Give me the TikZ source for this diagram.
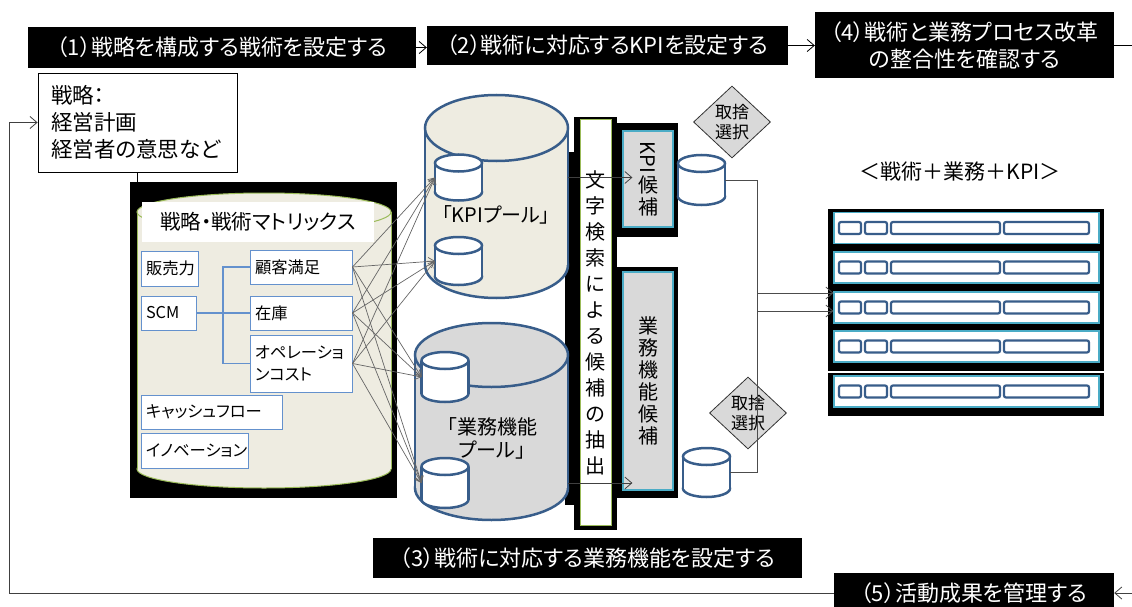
\documentclass[tikz,border=0pt]{standalone}
\usepackage{fontspec}
\setmainfont{Noto Sans CJK JP}[RawFeature=+palt]
\usepackage{graphicx}
\usetikzlibrary{shapes.geometric,arrows.meta}

\definecolor{poolblue}{RGB}{56,93,138}
\definecolor{beige}{RGB}{238,236,225}
\definecolor{lgray}{RGB}{217,217,217}
\definecolor{boxblue}{RGB}{100,145,205}
\definecolor{candblue}{RGB}{75,172,198}
\definecolor{mtxgreen}{RGB}{155,187,89}

\tikzset{
  stepbox/.style={fill=black, text=white, inner sep=0pt, align=center, font=\fontsize{22}{27}\selectfont},
  tagbox/.style={draw=boxblue, line width=1pt, fill=white, inner xsep=5pt, inner ysep=0pt, text width=#1, align=left, font=\fontsize{16.3}{22}\selectfont},
  drumline/.style={draw=poolblue, line width=2.5pt},
  mtxline/.style={draw=mtxgreen, line width=1pt},
  cand/.style={draw=candblue, line width=1.2pt, fill=lgray, minimum width=50, inner sep=0pt, align=center, font=\fontsize{20}{22}\selectfont},
  choice/.style={diamond, draw=black!80, line width=0.8pt, fill=lgray, minimum width=77, minimum height=72, inner sep=0pt, align=center, font=\fontsize{17}{20}\selectfont},
  rowbox/.style={draw=candblue, line width=1.2pt, fill=white, minimum width=265, minimum height=31, inner sep=0pt},
  cell/.style={draw=poolblue, line width=2.2pt, rounded corners=2pt, fill=white, minimum height=12, inner sep=0pt}
}

% cylinder: [line style]{name}{cx}{cy}{width}{height}{end radius}{fill}
\newcommand{\drum}[8][drumline]{%
  \node[minimum width=#5, minimum height=#6, inner sep=0pt, outer sep=0pt] (#2) at (#3,#4) {};
  \filldraw[#1, fill=#8] (#3,{#4+#6/2-#7}) ellipse [x radius={#5/2}, y radius={#7}];
  \fill[#8] ({#3-#5/2},{#4-#6/2+#7}) rectangle ({#3+#5/2},{#4+#6/2-#7});
  \draw[#1] ({#3-#5/2},{#4-#6/2+#7}) -- ({#3-#5/2},{#4+#6/2-#7})
            ({#3+#5/2},{#4-#6/2+#7}) -- ({#3+#5/2},{#4+#6/2-#7});
  \filldraw[#1, fill=#8] (#3,{#4-#6/2+#7}) ellipse [x radius={#5/2}, y radius={#7}];
}

\begin{document}
\begin{tikzpicture}[x=1pt,y=-1pt,
  flow/.style={line width=0.8pt, -{Straight Barb[length=7pt,width=12pt]}},
  link/.style={draw=black!60, line width=0.7pt, -{Straight Barb[length=6pt,width=8pt]}},
  tree/.style={draw=boxblue, line width=1.3pt},
  mergeline/.style={draw=black!70, line width=0.8pt}]
  \useasboundingbox (0,0) rectangle (1132,607);

  % black backgrounds
  \node[fill=black, minimum width=267, minimum height=316, inner sep=0pt] (mtxbg) at (263.5,340) {};
  \fill (565,152) rectangle (617,505);
  \fill (574,117) rectangle (617,530);
  \fill (617,123) rectangle (678,237);
  \fill (617,267) rectangle (678,498);
  \fill (828,209) rectangle (1104,416);
  \draw[white, line width=1.5pt] (828,372) -- (1104,372);

  \node[stepbox, minimum width=388, minimum height=41] (step1) at (222,47.5) {（1）戦略を構成する戦術を設定する};
  \node[stepbox, minimum width=361, minimum height=39] (step2) at (607.5,45.5) {（2）戦術に対応するKPIを設定する};
  \node[stepbox, minimum width=299, minimum height=66] (step4) at (964.5,45) {（4）戦術と業務プロセス改革\\の整合性を確認する};
  \node[stepbox, minimum width=429, minimum height=40] (step3) at (587.5,558) {（3）戦術に対応する業務機能を設定する};
  \node[stepbox, minimum width=280, minimum height=40] (step5) at (974,593) {（5）活動成果を管理する};

  \node[draw, line width=0.8pt, fill=white, text width=173, inner xsep=13pt, minimum height=99, align=left, font=\fontsize{21.5}{27}\selectfont] (strat) at (137.5,122.5) {戦略：\\経営計画\\経営者の意思など};

  \drum[mtxline]{mtx}{264}{340.5}{254}{295}{19}{beige}
  \node[fill=white, minimum width=232, minimum height=40, inner sep=0pt, font=\fontsize{20.5}{24}\selectfont] (mtxtitle) at (258,222) {戦略・戦術マトリックス};

  \node[tagbox=47, minimum height=35] (hanbai) at (169.5,268.5) {販売力};
  \node[tagbox=45, minimum height=34] (scm) at (168.5,313) {SCM};
  \node[tagbox=92, minimum height=34] (kokyaku) at (301,267) {顧客満足};
  \node[tagbox=92, minimum height=34] (zaiko) at (301,313) {在庫};
  \node[tagbox=92, minimum height=57] (opcost) at (301,363.5) {オペレーショ\\ンコスト};
  \node[tagbox=131, minimum height=34] (cash) at (211.5,412) {キャッシュフロー};
  \node[tagbox=97, minimum height=35] (innov) at (194.5,450.5) {イノベーション};

  \coordinate (fork) at (223,0 |- scm.east);
  \draw[tree] (scm.east) -- (fork) -- (zaiko.west);
  \draw[tree] (kokyaku.west) -| (fork) |- (opcost.west);

  \drum{kpipool}{496.5}{196.5}{143}{203}{33}{beige}
  \drum{gypool}{491.5}{421.5}{153}{197}{32}{lgray}
  \drum{kpi1}{458.5}{177.5}{47}{46}{8.5}{white}
  \drum{kpi2}{458.5}{261}{47}{48}{8.5}{white}
  \drum{gy1}{445}{377}{47}{50}{8.5}{white}
  \drum{gy2}{445}{483}{47}{50}{8.5}{white}
  \node[font=\fontsize{20}{23}\selectfont] (kpilabel) at (496,215) {「KPIプール」};
  \node[font=\fontsize{20}{23}\selectfont, align=center] (gylabel) at (492,438) {「業務機能\\プール」};

  \node[draw=mtxgreen, line width=1pt, fill=white, minimum width=31, minimum height=405, inner sep=0pt, align=center, font=\fontsize{20}{26}\selectfont] (search) at (595.5,322.5) {文\\字\\検\\索\\に\\よ\\る\\候\\補\\の\\抽\\出};

  \node[cand, minimum height=96] (kpicand) at (648,179) {\rotatebox[origin=c]{-90}{KPI}\\[2pt]候\\補};
  \node[cand, minimum height=218] (gycand) at (648,381) {業\\務\\機\\能\\候\\補};

  \draw[flow, draw=black!75, shorten >=-10pt] (kpi1 -| kpipool.east) -- (kpi1 -| kpicand.west);
  \draw[flow, draw=black!75, shorten >=-10pt] (gy2 -| gypool.east) -- (gy2 -| gycand.west);

  \node[choice] (sel1) at (732,122) {取捨\\選択};
  \node[choice] (sel2) at (748,413) {取捨\\選択};
  \drum{kpiout}{701.5}{180}{47}{50}{8.5}{white}
  \drum{gyout}{706.5}{472.5}{47}{49}{8.5}{white}

  \node[font=\fontsize{21}{24}\selectfont] (tbltitle) at (960,172) {＜戦術＋業務＋KPI＞};
  \foreach \i/\y in {1/228,2/267.5,3/307.5,4/346.5,5/391.5} {
    \node[rowbox] (row\i) at (966.5,\y) {};
    \foreach \cx/\w [count=\j] in {850/22,876/22,945.5/109,1046.5/85}
      \node[cell, minimum width=\w] (cell\i\j) at (\cx,\y) {};
  }

  \coordinate (merge1) at (757,0 |- kpiout.east);
  \coordinate (merge2) at (757,0 |- gyout.east);
  \draw[mergeline] (kpiout.east) -- (merge1) -- (merge2) -- (gyout.east);
  \coordinate (tap1) at (757,293);
  \coordinate (tap2) at (757,311);
  \draw[mergeline, flow] (tap1) -- (tap1 -| row3.west);
  \draw[mergeline, flow] (tap2) -- (tap2 -| row3.west);

  \foreach \src in {kokyaku,zaiko,opcost}
    \foreach \dst in {kpi1,kpi2,gy1,gy2}
      \draw[link] (\src.east) -- (\dst.west);

  \draw[flow] (step1.east) -- (step1.east -| step2.west);
  \draw[flow] (step2.east) -- (step2.east -| step4.west);
  \coordinate (exit4) at (1132,0 |- step4.east);
  \draw[line width=0.8pt] (step4.east) -- (exit4);
  \coordinate (entry5) at (1132,0 |- step5.east);
  \draw[flow, draw=black!75] (entry5) -- (step5.east);
  \coordinate (loop) at (9,0 |- step5.west);
  \draw[flow, draw=black!75] (step5.west) -- (loop) |- (strat.west);
  \draw[line width=0.8pt] (strat.south -| mtx.west) -- (mtxbg.north -| mtx.west);
\end{tikzpicture}
\end{document}
